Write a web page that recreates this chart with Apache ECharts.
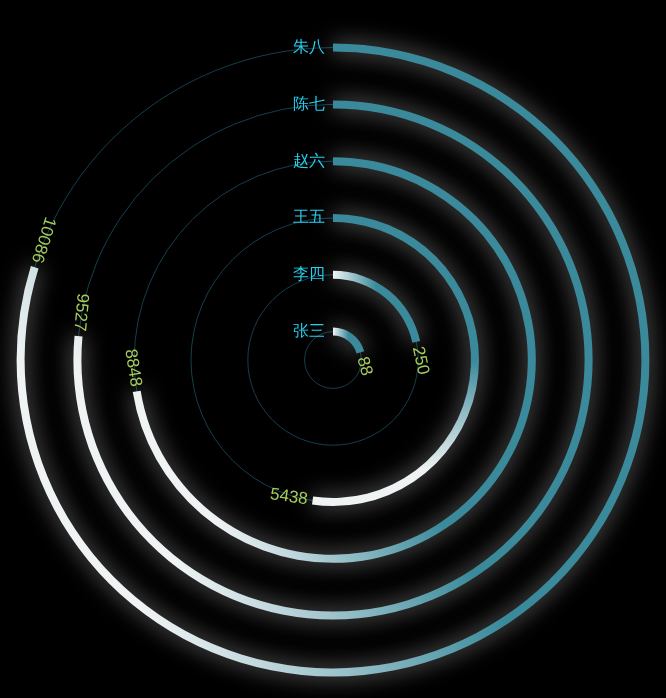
<!DOCTYPE html>
<html>
<head>
<meta charset="utf-8">
<style>
html, body { margin: 0; padding: 0; background: #000; }
#main { width: 666px; height: 698px; }
</style>
<script src="https://cdn.jsdelivr.net/npm/echarts@6/dist/echarts.min.js"></script>
</head>
<body>
<div id="main"></div>
<script>
var names = ['张三', '李四', '王五', '赵六', '陈七', '朱八'];
var values = [88, 250, 5438, 8848, 9527, 10086];

// angle axis range (bars start at the top)
var angleMin = -3400;
var angleMax = 13500;

var teal = '#3a8a9b';
var white = '#f0f3f4';

// gradient direction per ring, in the bar's own box
var ringGradients = [
    [0, 0, 1, 0, [[0, white], [0.5, teal], [1, teal]]],
    [0, 0, 1, 0, [[0, white], [0.5, teal], [1, teal]]],
    [0, 0, 0, 1, [[0, teal], [0.5, teal], [0.88, white], [1, white]]],
    [1, 0, 0, 0.5, [[0, teal], [0.55, teal], [1, white]]],
    [1, 0, 0, 0.5, [[0, teal], [0.55, teal], [1, white]]],
    [1, 0, 0, 0.5, [[0, teal], [0.55, teal], [1, white]]]
];

function gradient(g) {
    return new echarts.graphic.LinearGradient(g[0], g[1], g[2], g[3],
        g[4].map(function (s) { return {offset: s[0], color: s[1]}; }));
}

// keep the value text running downward along the ring, like the original
// (polar bar label rotation is taken in radians)
function labelFor(v) {
    var a = 90 - (v - angleMin) / (angleMax - angleMin) * 360;
    var r = a - 90;
    while (r <= -180) r += 360;
    while (r > 180) r -= 360;
    var align = 'left';
    if (r > 0) {
        r -= 180;
        align = 'right';
    }
    return {rotate: r * Math.PI / 180, align: align};
}

var dom = document.getElementById('main');
var myChart = echarts.init(dom);

var option = {
    backgroundColor: '#000',
    polar: [
        {center: [333, 360], radius: [0, 340.8]},
        {center: [333, 360], radius: [28.4, 312.4]}
    ],
    angleAxis: [{
        polarIndex: 0,
        type: 'value',
        min: angleMin,
        max: angleMax,
        startValue: angleMin,
        startAngle: 90,
        clockwise: true,
        show: false
    }, {
        polarIndex: 1,
        type: 'value',
        min: 0,
        max: 1,
        show: false
    }],
    radiusAxis: [{
        polarIndex: 0,
        type: 'category',
        data: names,
        axisLine: {show: false},
        axisTick: {show: false},
        axisLabel: {
            color: '#26cfee',
            fontSize: 16,
            margin: 8
        },
        splitLine: {show: false},
        z: 4
    }, {
        polarIndex: 1,
        type: 'category',
        data: names,
        boundaryGap: false,
        axisLine: {show: false},
        axisTick: {show: false},
        axisLabel: {show: false},
        splitLine: {
            show: true,
            lineStyle: {color: '#143f4f', width: 1}
        },
        z: 1
    }],
    series: [{
        type: 'bar',
        coordinateSystem: 'polar',
        polarIndex: 0,
        barWidth: 8,
        data: values.map(function (v, i) {
            return {
                value: v,
                itemStyle: {color: gradient(ringGradients[i])},
                label: labelFor(v)
            };
        }),
        itemStyle: {
            shadowBlur: 22,
            shadowColor: 'rgba(255,255,255,0.55)'
        },
        label: {
            show: true,
            position: 'end',
            color: '#a6cd5c',
            fontSize: 17
        },
        z: 3
    }]
};

myChart.setOption(option);
</script>
</body>
</html>
